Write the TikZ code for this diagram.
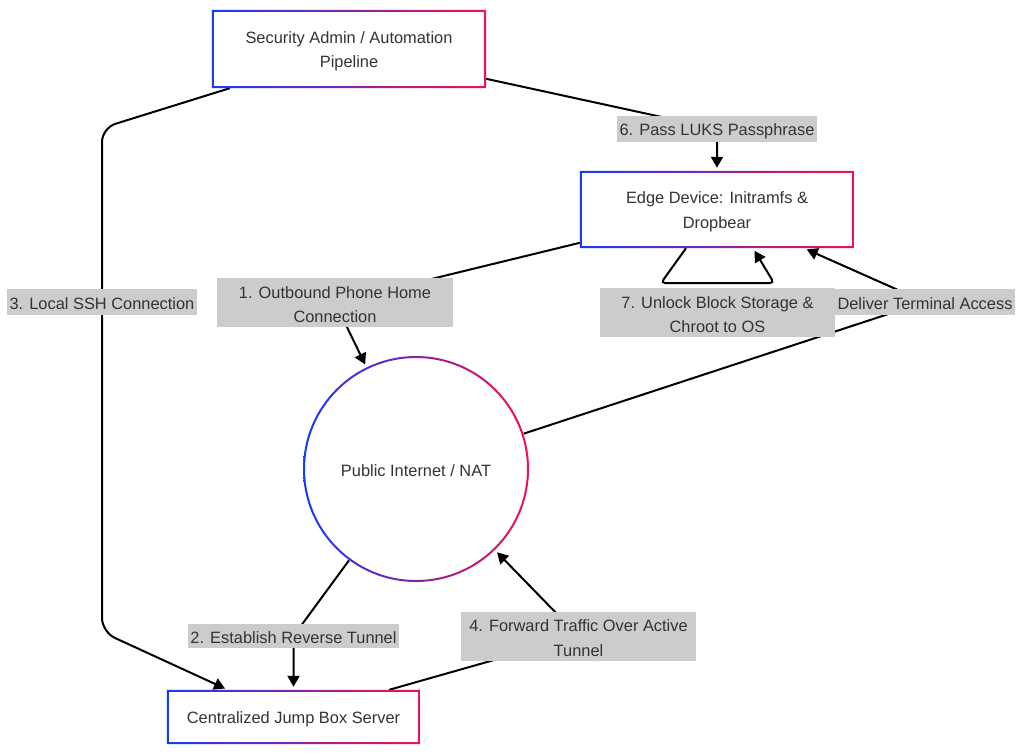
\documentclass[tikz,border=0pt]{standalone}
\usepackage{fontspec}
\setmainfont{Liberation Sans}
\usetikzlibrary{arrows.meta}
\pgfdeclarelayer{bgl}\pgfdeclarelayer{edgel}\pgfdeclarelayer{shapel}
\pgfsetlayers{bgl,edgel,shapel,main}
\definecolor{cblue}{RGB}{20,60,250}
\definecolor{cred}{RGB}{245,15,80}
\definecolor{txt}{RGB}{51,51,51}
\definecolor{labbg}{RGB}{204,204,204}
\newcommand\gborder[1]{%
  \fill[white] (#1.north west) rectangle (#1.south east);
  \shade[left color=cblue,right color=cred,even odd rule] (#1.north west) rectangle (#1.south east)
     ([shift={(2pt,-2pt)}]#1.north west) rectangle ([shift={(-2pt,2pt)}]#1.south east);}
\newcommand\lift{\rule{0pt}{16pt}}
\begin{document}
\begin{tikzpicture}[x=1pt,y=-1pt,
  nd/.style={rectangle, align=center, inner sep=0pt, text=txt, font=\fontsize{16.4}{24.5}\selectfont},
  lbl/.style={fill=labbg, align=center, inner xsep=2.5pt, inner ysep=0pt, text=txt, font=\fontsize{16.4}{24.5}\selectfont},
  lbla/.style={lbl, minimum height=26pt},
  lblb/.style={lbl, minimum height=49pt, minimum width=236pt},
  conn/.style={draw=black, line width=2pt},
  arr/.style={conn, -{Triangle[length=11pt,width=12pt]}, shorten >=3pt},
]
\useasboundingbox (0,0) rectangle (1024,754);
\begin{pgfonlayer}{bgl}
\fill[white] (0,0) rectangle (1024,754);
\end{pgfonlayer}

% nodes
\node[nd, minimum width=274pt, minimum height=78pt] (sec) at (349,49) {\lift Security Admin / Automation\\Pipeline};
\node[nd, minimum width=274pt, minimum height=77pt] (edev) at (717,209.5) {\lift Edge Device: Initramfs \&\\Dropbear};
\node[nd, circle, minimum size=226pt] (net) at (416,469) {\lift Public Internet / NAT};
\node[nd, minimum width=253pt, minimum height=54pt] (jump) at (293.5,717) {\lift Centralized Jump Box Server};

\begin{pgfonlayer}{shapel}
\gborder{sec}
\gborder{edev}
\gborder{jump}
\fill[white] (net.center) circle[radius=113pt];
\shade[left color=cblue,right color=cred,even odd rule] (net.center) circle[radius=113pt] (net.center) circle[radius=111pt];
\end{pgfonlayer}

% labels
\node[lbla] (l6) at (717,129) {\lift 6. Pass LUKS Passphrase};
\node[lblb] (l1) at (335,302.5) {\lift 1. Outbound Phone Home\\Connection};
\node[lbla] (l3) at (102,302) {\lift 3. Local SSH Connection};
\node[lblb, minimum width=235pt] (l5) at (717.5,312.5) {\lift 7. Unlock Block Storage \&\\Chroot to OS};
\node[lbla] (l7) at (925,302) {\lift Deliver Terminal Access};
\node[lbla, minimum height=24pt] (l2) at (293.5,636) {\lift 2. Establish Reverse Tunnel};
\node[lblb, minimum width=235pt] (l4) at (578.5,636) {\lift 4. Forward Traffic Over Active\\Tunnel};

\coordinate (c3a) at (102,128);
\coordinate (c3b) at (102,632);
\coordinate (c5a) at (661,283);
\coordinate (c5b) at (774,283);

\begin{pgfonlayer}{edgel}
\draw[arr] (edev) -- (l1.center) -- (net);
\draw[arr] (net) -- (l2.center) -- (jump);
\draw[arr, rounded corners=14pt] ([xshift=18pt]sec.south west) -- (c3a) -- (c3b) -- ([xshift=61pt]jump.north west);
\draw[arr] (jump) -- (l4.center) -- (net);
\draw[arr] (sec) -- (l6.center) -- (edev);
\draw[arr] (net) -- (l7.center) -- (edev);
\draw[arr, rounded corners=4pt] ([xshift=-31pt]edev.south) -- (c5a) -- (c5b) -- ([xshift=36pt]edev.south);
\end{pgfonlayer}
\end{tikzpicture}
\end{document}
